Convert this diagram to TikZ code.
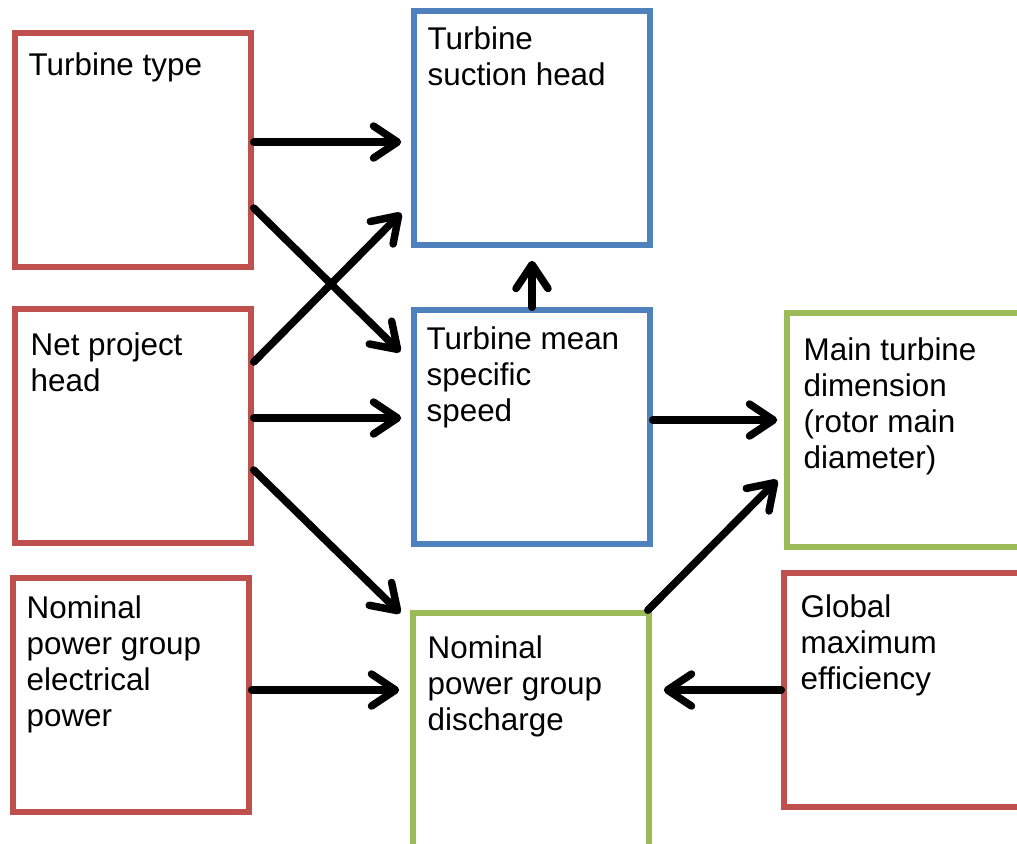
\documentclass[tikz,border=0pt]{standalone}
\usepackage{fontspec}
\setmainfont{Liberation Sans}
\usepackage{xcolor}
\usetikzlibrary{arrows.meta,positioning}
\definecolor{inred}{HTML}{C0504D}
\definecolor{midblue}{HTML}{4F81BD}
\definecolor{outgreen}{HTML}{9BBB59}

\begin{document}
\begin{tikzpicture}[
    x=0.5pt, y=-0.5pt,
    box/.style={draw, line width=2.75pt, minimum width=118pt, minimum height=117pt},
    txt/.style={inner sep=0pt, align=left, font=\fontsize{15.7}{18}\selectfont},
    arr/.style={line width=3.75pt, line cap=round,
        -{Straight Barb[length=12pt, width=16pt, line cap=round, line join=round]}}
]
\clip (0,0) rectangle (1017,843);

% inputs
\node[box, draw=inred] (type) at (133,150) {};
\node[box, draw=inred] (head) at (133,426) {};
\node[box, draw=inred] (elec) at (131,695) {};
\node[box, draw=inred] (eff)  at (902,690) {};
% turbine boxes
\node[box, draw=midblue] (suction) at (532,128) {};
\node[box, draw=midblue] (speed)   at (532,427) {};
% results
\node[box, draw=outgreen] (discharge) at (531,730) {};
\node[box, draw=outgreen] (dim)       at (905,430) {};

\node[txt, below right=11pt and 8pt of type.north west] (typetxt) {Turbine type};
\node[txt, below right=13pt and 9pt of head.north west] (headtxt) {Net project\\head};
\node[txt, below right=10pt and 8pt of elec.north west] (electxt) {Nominal\\power group\\electrical\\power};
\node[txt, below right=12pt and 9.5pt of eff.north west] (efftxt) {Global\\maximum\\efficiency};
\node[txt, below right=9pt and 8pt of suction.north west] (suctiontxt) {Turbine\\suction head};
\node[txt, below right=9.5pt and 7.5pt of speed.north west] (speedtxt) {Turbine mean\\specific\\speed};
\node[txt, below right=12.5pt and 8.5pt of discharge.north west] (dischargetxt) {Nominal\\power group\\discharge};
\node[txt, below right=13.5pt and 9.5pt of dim.north west] (dimtxt) {Main turbine\\dimension\\(rotor main\\diameter)};

% dependencies
\draw[arr] ([yshift=4pt]type.east) -- ([xshift=-5pt,yshift=-7pt]suction.west);
\draw[arr] ([yshift=-29pt]type.east) -- ([xshift=-5.5pt,yshift=37.5pt]speed.west);
\draw[arr] ([yshift=32pt]head.east) -- ([xshift=-5pt,yshift=-42.5pt]suction.west);
\draw[arr] ([yshift=4pt]head.east) -- ([xshift=-5pt,yshift=4.5pt]speed.west);
\draw[arr] ([yshift=-22pt]head.east) -- ([xshift=-5pt,yshift=-1.5pt]discharge.north west);
\draw[arr] (speed.north) -- ([yshift=-6.5pt]suction.south);
\draw[arr] ([yshift=3.5pt]speed.east) -- ([xshift=-3.5pt,yshift=5pt]dim.west);
\draw[arr] ([yshift=2.5pt]elec.east) -- ([xshift=-5.5pt,yshift=20pt]discharge.west);
\draw[arr] ([xshift=-2pt]discharge.north east) -- ([xshift=-3.5pt,yshift=-25pt]dim.west);
\draw[arr] (eff.west) -- ([xshift=6pt,yshift=20pt]discharge.east);
\end{tikzpicture}
\end{document}
